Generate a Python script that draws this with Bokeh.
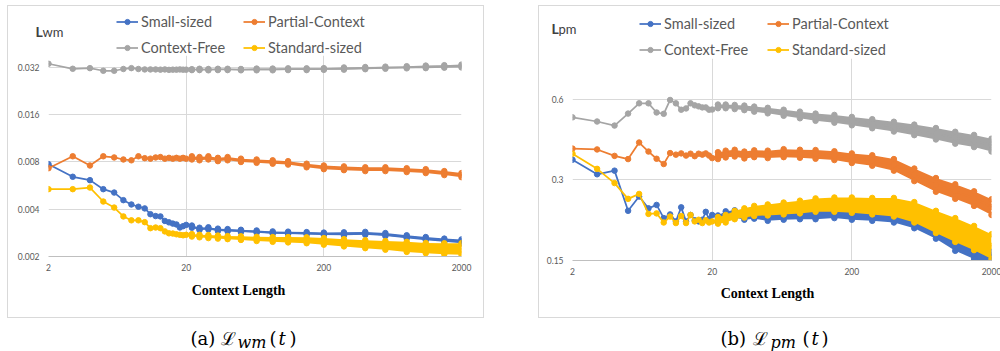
from bokeh.plotting import figure
from bokeh.models import Range1d, FixedTicker, Legend, LegendItem, Label, Spacer
from bokeh.layouts import row, column
from bokeh.embed import file_html
from bokeh.resources import INLINE

# ---------------- data ----------------
SERIES = ["Small-sized", "Partial-Context", "Context-Free", "Standard-sized"]
COLORS = ["#4472C4", "#ED7D31", "#A5A5A5", "#FFC000"]

X_EARLY = [2, 3, 4, 5, 6, 7, 8, 9, 10, 11, 12, 13, 14, 15, 16, 17, 18, 19, 20]
X_TAIL = [22, 25, 29, 34, 40, 50, 65, 85, 110, 150, 200, 280, 400, 560, 800, 1100, 1500, 2000]
X_TICKS = [2, 20, 200, 2000]
X_TICK_LABELS = ["2", "20", "200", "2000"]
X_LABEL = "Context Length"

# (a) L_wm
WM_Y_TICKS = [0.002, 0.004, 0.008, 0.016, 0.032]
WM_Y_TICK_LABELS = ["0.002", "0.004", "0.008", "0.016", "0.032"]

WM_SMALL_EARLY = [0.00775, 0.00644, 0.00613, 0.00537, 0.00511, 0.00457, 0.00429, 0.00415, 0.00405, 0.00372,
                  0.00362, 0.0036, 0.00337, 0.0033, 0.00324, 0.0032, 0.00306, 0.00312, 0.00318]
WM_SMALL_TAIL = [0.0031, 0.0030, 0.00302, 0.00296, 0.00294, 0.00291, 0.00288, 0.00284, 0.00283, 0.00281,
                 0.00279, 0.00279, 0.00281, 0.00276, 0.00267, 0.00260, 0.00254, 0.00250]
WM_SMALL_LO = [0.00305, 0.00295, 0.00297, 0.00291, 0.00289, 0.00286, 0.00283, 0.00279, 0.00278, 0.00276,
               0.00274, 0.00273, 0.00275, 0.00270, 0.00261, 0.00254, 0.00248, 0.00243]
WM_SMALL_HI = [0.00315, 0.00305, 0.00307, 0.00301, 0.00299, 0.00296, 0.00293, 0.00289, 0.00288, 0.00286,
               0.00284, 0.00285, 0.00287, 0.00282, 0.00273, 0.00266, 0.00260, 0.00257]

WM_PARTIAL_EARLY = [0.0073, 0.0087, 0.0076, 0.0087, 0.00855, 0.0083, 0.0082, 0.0087, 0.00846, 0.0084,
                    0.00855, 0.0086, 0.0084, 0.0085, 0.0084, 0.0085, 0.0084, 0.0085, 0.0084]
WM_PARTIAL_TAIL = [0.0085, 0.0084, 0.0085, 0.0083, 0.0084, 0.0082, 0.0081, 0.0080, 0.0079, 0.0076,
                   0.0074, 0.0073, 0.0072, 0.0072, 0.0071, 0.0070, 0.0068, 0.0066]
WM_PARTIAL_LO = [0.0083, 0.0082, 0.0083, 0.0081, 0.0082, 0.0080, 0.0079, 0.0078, 0.0077, 0.0074,
                 0.0072, 0.0071, 0.0070, 0.0070, 0.0069, 0.0068, 0.0066, 0.0064]
WM_PARTIAL_HI = [0.0087, 0.0086, 0.0087, 0.0085, 0.0086, 0.0084, 0.0083, 0.0082, 0.0081, 0.0078,
                 0.0076, 0.0075, 0.0074, 0.0074, 0.0073, 0.0072, 0.0070, 0.0068]

WM_FREE_EARLY = [0.0338, 0.0314, 0.0317, 0.0305, 0.0305, 0.0313, 0.0317, 0.0313, 0.0311, 0.0311,
                 0.0311, 0.0310, 0.0311, 0.0309, 0.0310, 0.0310, 0.0311, 0.0310, 0.0310]
WM_FREE_TAIL = [0.0310, 0.0311, 0.0310, 0.0311, 0.0311, 0.0310, 0.0311, 0.0311, 0.0312, 0.0312,
                0.0313, 0.0315, 0.0317, 0.0319, 0.0321, 0.0323, 0.0325, 0.0327]
WM_FREE_LO = [0.0308, 0.0308, 0.0307, 0.0308, 0.0308, 0.0307, 0.0307, 0.0307, 0.0308, 0.0308,
              0.0309, 0.0310, 0.0312, 0.0314, 0.0316, 0.0317, 0.0319, 0.0320]
WM_FREE_HI = [0.0312, 0.0314, 0.0313, 0.0314, 0.0314, 0.0313, 0.0315, 0.0315, 0.0316, 0.0316,
              0.0317, 0.0320, 0.0322, 0.0324, 0.0326, 0.0329, 0.0331, 0.0334]

WM_STANDARD_EARLY = [0.00537, 0.00537, 0.0055, 0.00448, 0.0041, 0.0036, 0.0034, 0.0034, 0.00331, 0.00303,
                     0.00306, 0.00303, 0.00289, 0.00281, 0.0028, 0.00277, 0.00275, 0.00273, 0.00275]
WM_STANDARD_TAIL = [0.00273, 0.00270, 0.00268, 0.00266, 0.00264, 0.00262, 0.00259, 0.00257, 0.00256, 0.00254,
                    0.00250, 0.00245, 0.00240, 0.00236, 0.00231, 0.00227, 0.00225, 0.00224]
WM_STANDARD_LO = [0.00268, 0.00265, 0.00262, 0.00260, 0.00258, 0.00255, 0.00251, 0.00248, 0.00246, 0.00243,
                  0.00238, 0.00232, 0.00226, 0.00221, 0.00214, 0.00210, 0.00207, 0.00205]
WM_STANDARD_HI = [0.00278, 0.00275, 0.00274, 0.00272, 0.00270, 0.00269, 0.00267, 0.00266, 0.00266, 0.00265,
                  0.00262, 0.00258, 0.00254, 0.00251, 0.00248, 0.00244, 0.00243, 0.00243]

# (b) L_pm
PM_Y_TICKS = [0.15, 0.3, 0.6]
PM_Y_TICK_LABELS = ["0.15", "0.3", "0.6"]

PM_SMALL_EARLY = [0.357, 0.315, 0.325, 0.23, 0.26, 0.235, 0.242, 0.216, 0.223, 0.21,
                  0.237, 0.21, 0.222, 0.212, 0.21, 0.213, 0.228, 0.214, 0.222]
PM_SMALL_TAIL = [0.215, 0.222, 0.224, 0.22, 0.222, 0.218, 0.22, 0.222, 0.222, 0.224,
                 0.222, 0.22, 0.218, 0.208, 0.19, 0.172, 0.16, 0.153]
PM_SMALL_LO = [0.209, 0.215, 0.217, 0.213, 0.215, 0.211, 0.213, 0.214, 0.214, 0.216,
               0.213, 0.211, 0.208, 0.198, 0.181, 0.163, 0.152, 0.145]
PM_SMALL_HI = [0.221, 0.229, 0.231, 0.227, 0.229, 0.225, 0.227, 0.23, 0.23, 0.232,
               0.231, 0.229, 0.228, 0.218, 0.199, 0.181, 0.168, 0.161]

PM_PARTIAL_EARLY = [0.393, 0.39, 0.369, 0.359, 0.414, 0.383, 0.36, 0.344, 0.378, 0.373,
                    0.377, 0.37, 0.376, 0.368, 0.376, 0.373, 0.377, 0.37, 0.362]
PM_PARTIAL_TAIL = [0.37, 0.375, 0.378, 0.372, 0.376, 0.374, 0.378, 0.376, 0.374, 0.37,
                   0.362, 0.355, 0.342, 0.314, 0.288, 0.272, 0.256, 0.238]
PM_PARTIAL_LO = [0.359, 0.364, 0.367, 0.361, 0.365, 0.362, 0.365, 0.363, 0.36, 0.356,
                 0.347, 0.339, 0.325, 0.297, 0.271, 0.255, 0.24, 0.222]
PM_PARTIAL_HI = [0.381, 0.386, 0.389, 0.383, 0.387, 0.386, 0.391, 0.389, 0.388, 0.384,
                 0.377, 0.371, 0.359, 0.331, 0.305, 0.289, 0.272, 0.254]

PM_FREE_EARLY = [0.514, 0.496, 0.479, 0.531, 0.58, 0.58, 0.536, 0.53, 0.597, 0.58,
                 0.549, 0.555, 0.58, 0.57, 0.565, 0.56, 0.56, 0.549, 0.55]
PM_FREE_TAIL = [0.565, 0.565, 0.562, 0.558, 0.552, 0.545, 0.535, 0.525, 0.515, 0.508,
                0.498, 0.487, 0.475, 0.462, 0.447, 0.432, 0.42, 0.405]
PM_FREE_LO = [0.556, 0.556, 0.552, 0.547, 0.54, 0.532, 0.521, 0.51, 0.499, 0.491,
              0.48, 0.468, 0.455, 0.441, 0.425, 0.41, 0.398, 0.383]
PM_FREE_HI = [0.574, 0.574, 0.572, 0.569, 0.564, 0.558, 0.549, 0.54, 0.531, 0.525,
              0.516, 0.506, 0.495, 0.483, 0.469, 0.454, 0.442, 0.428]

PM_STANDARD_EARLY = [0.376, 0.33, 0.292, 0.255, 0.266, 0.224, 0.225, 0.208, 0.219, 0.207,
                     0.22, 0.207, 0.222, 0.21, 0.213, 0.207, 0.212, 0.208, 0.21]
PM_STANDARD_TAIL = [0.212, 0.215, 0.222, 0.226, 0.23, 0.232, 0.235, 0.238, 0.242, 0.243,
                    0.242, 0.24, 0.238, 0.228, 0.21, 0.196, 0.183, 0.17]
PM_STANDARD_LO = [0.206, 0.208, 0.214, 0.217, 0.22, 0.221, 0.223, 0.225, 0.228, 0.228,
                  0.226, 0.223, 0.219, 0.208, 0.19, 0.176, 0.164, 0.152]
PM_STANDARD_HI = [0.218, 0.222, 0.23, 0.235, 0.24, 0.243, 0.247, 0.251, 0.256, 0.258,
                  0.258, 0.257, 0.257, 0.248, 0.23, 0.216, 0.202, 0.188]

WM_DATA = [
    (WM_SMALL_EARLY, WM_SMALL_TAIL, WM_SMALL_LO, WM_SMALL_HI),
    (WM_PARTIAL_EARLY, WM_PARTIAL_TAIL, WM_PARTIAL_LO, WM_PARTIAL_HI),
    (WM_FREE_EARLY, WM_FREE_TAIL, WM_FREE_LO, WM_FREE_HI),
    (WM_STANDARD_EARLY, WM_STANDARD_TAIL, WM_STANDARD_LO, WM_STANDARD_HI),
]
PM_DATA = [
    (PM_SMALL_EARLY, PM_SMALL_TAIL, PM_SMALL_LO, PM_SMALL_HI),
    (PM_PARTIAL_EARLY, PM_PARTIAL_TAIL, PM_PARTIAL_LO, PM_PARTIAL_HI),
    (PM_FREE_EARLY, PM_FREE_TAIL, PM_FREE_LO, PM_FREE_HI),
    (PM_STANDARD_EARLY, PM_STANDARD_TAIL, PM_STANDARD_LO, PM_STANDARD_HI),
]

GRID = "#D9D9D9"
TXT = "#595959"
SANS = "Lato"
MARK = 5.5


def no_align(f):
    try:
        f.frame_align = False
    except Exception:
        pass
    return f


def pixel_fig(w, h):
    """A figure whose frame is the whole canvas, with 1 data unit = 1 pixel."""
    f = figure(width=w, height=h, x_range=Range1d(0, w), y_range=Range1d(0, h),
               toolbar_location=None, output_backend="svg", min_border=0,
               x_axis_location=None, y_axis_location=None)
    f.grid.visible = False
    f.outline_line_color = None
    f.background_fill_alpha = 0
    f.border_fill_alpha = 0
    return no_align(f)


def make_header(w, h, legA, legB, sym, sub, sym_pos, sub_pos):
    f = pixel_fig(w, h)
    rends = []
    for color in COLORS:
        # legend proxies: kept outside the visible range
        ln = f.line(x=[-50, -40], y=[-50, -50], line_color=color, line_width=1.75)
        sc = f.scatter(x=[-50], y=[-50], size=MARK, marker="circle", color=color)
        rends.append([ln, sc])
    common = dict(border_line_color=None, background_fill_alpha=0, padding=0, margin=0,
                  spacing=6, glyph_width=22, glyph_height=13, label_height=20,
                  label_standoff=3, label_text_font=SANS, label_text_font_size="14.5px",
                  label_text_color=TXT, orientation="vertical")
    f.add_layout(Legend(items=[LegendItem(label=SERIES[0], renderers=rends[0]),
                               LegendItem(label=SERIES[2], renderers=rends[2])],
                        location=legA, **common))
    f.add_layout(Legend(items=[LegendItem(label=SERIES[1], renderers=rends[1]),
                               LegendItem(label=SERIES[3], renderers=rends[3])],
                        location=legB, **common))
    f.add_layout(Label(x=sym_pos[0], y=sym_pos[1], text=sym, text_font=SANS,
                       text_font_style="bold", text_font_size="14px",
                       text_color="#404040", text_baseline="alphabetic"))
    f.add_layout(Label(x=sub_pos[0], y=sub_pos[1], text=sub, text_font=SANS,
                       text_font_size="13px", text_color="#404040",
                       text_baseline="alphabetic"))
    return f


def make_plot(w, h, mb_left, mb_right, mb_bottom, y_range, y_ticks, y_labels, data):
    p = figure(width=w, height=h, x_axis_type="log", y_axis_type="log",
               x_range=Range1d(2, 2000), y_range=Range1d(*y_range),
               toolbar_location=None, output_backend="svg",
               min_border_left=mb_left, min_border_right=mb_right,
               min_border_top=0, min_border_bottom=mb_bottom)
    no_align(p)
    p.outline_line_color = None

    p.xaxis.ticker = FixedTicker(ticks=X_TICKS, minor_ticks=[])
    p.xaxis.major_label_overrides = dict(zip(X_TICKS, X_TICK_LABELS))
    p.yaxis.ticker = FixedTicker(ticks=y_ticks, minor_ticks=[])
    p.yaxis.major_label_overrides = dict(zip(y_ticks, y_labels))
    p.xgrid.ticker = FixedTicker(ticks=X_TICKS, minor_ticks=[])
    p.ygrid.ticker = FixedTicker(ticks=y_ticks, minor_ticks=[])
    p.grid.grid_line_color = GRID
    p.grid.grid_line_width = 1

    for ax in (p.xaxis, p.yaxis):
        ax.major_tick_line_color = None
        ax.minor_tick_line_color = None
        ax.major_tick_out = 0
        ax.major_tick_in = 0
        ax.major_label_text_font = SANS
        ax.major_label_text_font_size = "8.5px"
        ax.major_label_text_color = TXT
    p.yaxis.axis_line_color = None
    p.xaxis.axis_line_color = "#BFBFBF"
    p.yaxis.major_label_standoff = 9
    p.xaxis.major_label_standoff = 7

    for (early, tail, lo, hi), color in zip(data, COLORS):
        p.varea(x=X_TAIL, y1=lo, y2=hi, fill_color=color, fill_alpha=1.0)
        p.scatter(x=X_TAIL, y=lo, size=MARK, marker="circle", color=color)
        p.scatter(x=X_TAIL, y=hi, size=MARK, marker="circle", color=color)
        xs = X_EARLY + X_TAIL
        ys = early + tail
        p.line(x=xs, y=ys, line_color=color, line_width=1.75)
        p.scatter(x=xs, y=ys, size=MARK, marker="circle", color=color)
    return p


def make_footer(w, h, cx, base):
    f = pixel_fig(w, h)
    f.add_layout(Label(x=cx, y=base, text=X_LABEL, text_font="Liberation Serif",
                       text_font_style="bold", text_font_size="14px", text_color="black",
                       text_align="center", text_baseline="alphabetic"))
    return f


BOX = {"border": "1px solid #D9D9D9"}

# panel (a): box x 7..482, y 5..316
h1 = make_header(475, 49, (108, -2), (235, -2), "L", "wm", (27, 24), (34, 24))
p1 = make_plot(475, 225, 40, 22, 24, (0.002, 0.03815), WM_Y_TICKS, WM_Y_TICK_LABELS, WM_DATA)
f1 = make_footer(475, 37, 230, 27)
panel1 = column(h1, p1, f1, spacing=0, styles=BOX)

# panel (b): box x 536..998, y 5..316
h2 = make_header(462, 52, (100, -1), (228, -1), "L", "pm", (12, 30), (19, 30))
p2 = make_plot(462, 224, 33, 10, 22, (0.15, 0.853), PM_Y_TICKS, PM_Y_TICK_LABELS, PM_DATA)
f2 = make_footer(462, 35, 228, 24)
panel2 = column(h2, p2, f2, spacing=0, styles=BOX)

# captions
cap = pixel_fig(998, 33)
SERIF = "DejaVu Serif"
CAPTIONS = [
    [(190, 13, "(a)", "normal", "18px"), (220, 13, "\u2112", "normal", "18px"),
     (237, 9.5, "wm", "italic", "16px"), (269, 13, "(", "normal", "18px"),
     (278, 13, "t", "italic", "18px"), (289, 13, ")", "normal", "18px")],
    [(720, 13, "(b)", "normal", "18px"), (752, 13, "\u2112", "normal", "18px"),
     (770, 9.5, "pm", "italic", "16px"), (802, 13, "(", "normal", "18px"),
     (811, 13, "t", "italic", "18px"), (821, 13, ")", "normal", "18px")],
]
for parts in CAPTIONS:
    for x, y, t, st, fs in parts:
        cap.add_layout(Label(x=x, y=y, text=t, text_font=SERIF, text_font_style=st,
                             text_font_size=fs, text_color="black", text_baseline="alphabetic"))

layout = column(
    Spacer(width=998, height=5),
    row(Spacer(width=7, height=311), panel1, Spacer(width=54, height=311), panel2, spacing=0),
    cap,
    spacing=0,
)
open("out.html", "w").write(file_html(layout, INLINE))
